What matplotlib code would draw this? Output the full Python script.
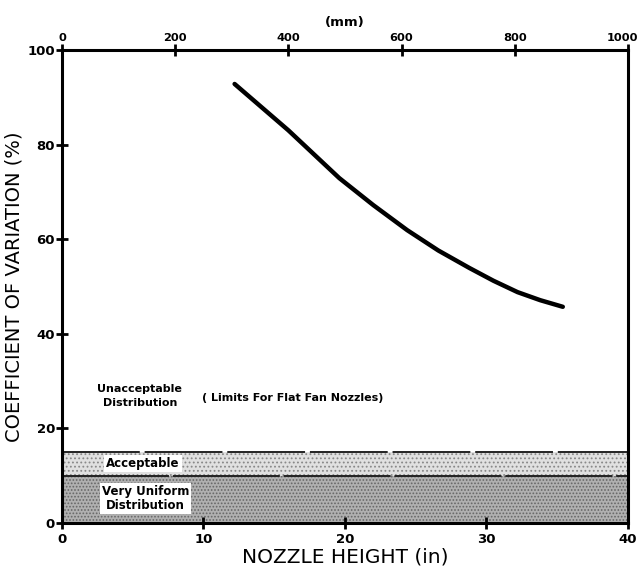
import matplotlib
matplotlib.use("Agg")
import matplotlib.pyplot as plt
import matplotlib.transforms as mtransforms

# Data
height_in = [12.2, 16.0, 19.6, 22.0, 24.4, 26.6, 28.8, 30.5, 32.2, 33.8, 35.4]
cv_pct = [92.8, 83.0, 72.9, 67.2, 61.9, 57.6, 53.9, 51.2, 48.8, 47.1, 45.7]

very_uniform_limit = 10
acceptable_limit = 15
x_ticks = [0, 10, 20, 30, 40]
y_ticks = [0, 20, 40, 60, 80, 100]
mm_ticks = [0, 200, 400, 600, 800, 1000]

plt.rcParams['font.family'] = ['DejaVu Sans']
plt.rcParams['hatch.linewidth'] = 0.8

fig = plt.figure(figsize=(6.42, 5.67), dpi=100)
ax = fig.add_axes([0.0966, 0.0776, 0.8814, 0.8344])

ax.set_xlim(0, 40)
ax.set_ylim(0, 100)

# bands
ax.fill_between([0, 40], 0, very_uniform_limit, facecolor='#b0b0b0',
                edgecolor='#666666', hatch='.....', linewidth=0, zorder=1)
ax.fill_between([0, 40], very_uniform_limit, acceptable_limit, facecolor='#e0e0e0',
                edgecolor='#888888', hatch='....', linewidth=0, zorder=1)
ax.axhline(acceptable_limit, color='#222222', lw=1.4, linestyle=(0, (40, 2.5)), zorder=2)
ax.axhline(very_uniform_limit, color='#222222', lw=1.4, linestyle=(0, (55, 2)), zorder=2)

# curve
ax.plot(height_in, cv_pct, color='black', lw=3.2, solid_capstyle='round',
        solid_joinstyle='round', zorder=3)

# text annotations
box = dict(facecolor='white', edgecolor='none', pad=1.5)
ax.text(5.7, 12.5, 'Acceptable', ha='center', va='center', fontsize=8.5,
        fontweight='bold', bbox=box, zorder=4)
ax.text(5.9, 5.2, 'Very Uniform\nDistribution', ha='center', va='center', fontsize=8.5,
        fontweight='bold', bbox=box, linespacing=1.1, zorder=4)
ax.text(5.5, 26.8, 'Unacceptable\nDistribution', ha='center', va='center', fontsize=8,
        fontweight='bold', linespacing=1.5, zorder=4)
ax.text(9.9, 26.4, '( Limits For Flat Fan Nozzles)', ha='left', va='center', fontsize=8,
        fontweight='bold', zorder=4)

# axes styling
for s in ax.spines.values():
    s.set_linewidth(2.2)
ax.set_xticks(x_ticks)
ax.set_yticks(y_ticks)
ax.tick_params(direction='inout', length=8, width=2, labelsize=9.5)
ax.tick_params(axis='y', pad=1)
for lab in ax.get_xticklabels() + ax.get_yticklabels():
    lab.set_fontweight('bold')
ax.set_xlabel('NOZZLE HEIGHT (in)', fontsize=14.5, labelpad=1)
ax.set_ylabel('COEFFICIENT OF VARIATION (%)', fontsize=14, labelpad=3)

top = ax.secondary_xaxis('top', functions=(lambda x: x * 25.0, lambda m: m / 25.0))
top.set_xticks(mm_ticks)
top.tick_params(direction='inout', length=8, width=2, labelsize=8.2, pad=1)
for lab in top.get_xticklabels():
    lab.set_fontweight('bold')
fig.canvas.draw()
last = top.get_xticklabels()[-1]
last.set_transform(last.get_transform() +
                   mtransforms.ScaledTranslation(-4 / 72, 0, fig.dpi_scale_trans))
top.set_xlabel('(mm)', fontsize=9.5, fontweight='bold', labelpad=5)

fig.savefig('out.png', dpi=100, facecolor='white')
